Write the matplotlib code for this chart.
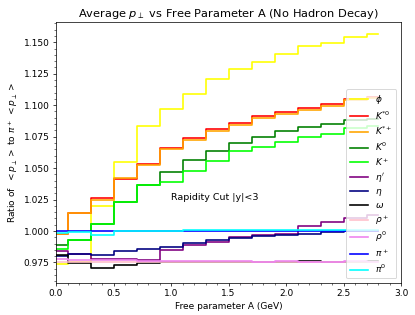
import matplotlib
matplotlib.use("Agg")
import matplotlib.pyplot as plt

A = [0.0, 0.2, 0.4, 0.6, 0.8, 1.0, 1.2, 1.4, 1.6, 1.8, 2.0, 2.2, 2.4, 2.6, 2.8]

phi   = [0.9736, 0.9750, 1.0198, 1.0550, 1.0834, 1.0966, 1.1088, 1.1207, 1.1284, 1.1342, 1.1403, 1.1472, 1.1498, 1.1538, 1.1564]
kst0  = [0.9980, 1.0140, 1.0264, 1.0410, 1.0536, 1.0661, 1.0736, 1.0808, 1.0855, 1.0913, 1.0947, 1.0974, 1.1008, 1.1050, 1.1066]
kstp  = [0.9976, 1.0140, 1.0248, 1.0420, 1.0522, 1.0650, 1.0723, 1.0794, 1.0844, 1.0895, 1.0926, 1.0960, 1.0992, 1.1040, 1.1056]
k0    = [0.9885, 0.9929, 1.0056, 1.0233, 1.0368, 1.0470, 1.0562, 1.0633, 1.0696, 1.0749, 1.0794, 1.0828, 1.0850, 1.0881, 1.0889]
kp    = [0.9857, 0.9929, 1.0056, 1.0233, 1.0365, 1.0391, 1.0480, 1.0560, 1.0635, 1.0668, 1.0707, 1.0744, 1.0770, 1.0815, 1.0834]
etap  = [0.9844, 0.9817, 0.9780, 0.9780, 0.9770, 0.9850, 0.9889, 0.9916, 0.9950, 0.9968, 0.9980, 1.0040, 1.0069, 1.0100, 1.0125]
eta   = [0.9801, 0.9817, 0.9810, 0.9841, 0.9855, 0.9877, 0.9902, 0.9928, 0.9946, 0.9964, 0.9968, 0.9980, 0.9995, 0.9998, 1.0000]
omega = [0.9810, 0.9744, 0.9710, 0.9728, 0.9744, 0.9750, 0.9750, 0.9752, 0.9755, 0.9757, 0.9757, 0.9765, 0.9757, 0.9757, 0.9760]
rhop  = [0.9757, 0.9750, 0.9752, 0.9750, 0.9752, 0.9750, 0.9750, 0.9752, 0.9750, 0.9750, 0.9752, 0.9750, 0.9752, 0.9750, 0.9752]
rho0  = [0.9775, 0.9770, 0.9772, 0.9768, 0.9765, 0.9762, 0.9760, 0.9762, 0.9760, 0.9757, 0.9760, 0.9757, 0.9757, 0.9760, 0.9757]
pip   = [1.0000, 1.0000, 1.0000, 1.0000, 1.0000, 1.0000, 1.0000, 1.0000, 1.0000, 1.0000, 1.0000, 1.0000, 1.0000, 1.0000, 1.0000]
pi0   = [0.9987, 0.9990, 0.9968, 0.9997, 1.0003, 1.0004, 1.0005, 1.0005, 1.0006, 1.0006, 1.0008, 1.0008, 1.0006, 1.0006, 1.0006]

series = [
    (phi, r'$\phi$', 'yellow'),
    (kst0, r'$K^{*0}$', 'red'),
    (kstp, r'$K^{*+}$', 'orange'),
    (k0, r'$K^0$', 'green'),
    (kp, r'$K^+$', 'lime'),
    (etap, r"$\eta'$", 'purple'),
    (eta, r'$\eta$', 'navy'),
    (omega, r'$\omega$', 'black'),
    (rhop, r'$\rho^+$', 'pink'),
    (rho0, r'$\rho^0$', 'violet'),
    (pip, r'$\pi^+$', 'blue'),
    (pi0, r'$\pi^0$', 'cyan'),
]

fig = plt.figure(figsize=(415/65, 315/65), dpi=65)
ax = fig.add_axes([56/415, 1-283/315, (401-56)/415, (283-22)/315])
for vals, lab, col in series:
    ax.step(A, vals, where='mid', color=col, label=lab, lw=1.8)

ax.set_xlim(0, 3.0)
ax.set_ylim(0.9587, 1.1661)
ax.minorticks_on()
ax.text(1.0, 1.025, 'Rapidity Cut |y|<3', fontsize=10.5)
ax.set_xlabel('Free parameter A (GeV)')
ax.set_ylabel(r'Ratio of  $<p_\perp>$ to $\pi^+$ $<p_\perp>$')
ax.set_title(r'Average $p_\perp$ vs Free Parameter A (No Hadron Decay)', fontsize=12.6)
ax.legend(loc='lower right', labelspacing=0.35)
fig.savefig('out.png', dpi=65)
